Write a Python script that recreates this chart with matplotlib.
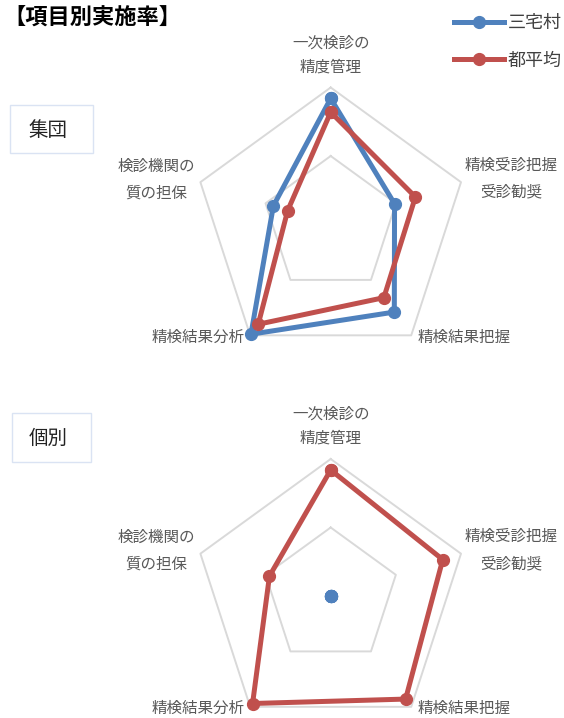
import numpy as np
import matplotlib
matplotlib.use("Agg")
import matplotlib.pyplot as plt
from matplotlib.patches import Rectangle

plt.rcParams['font.family'] = ['Noto Sans CJK JP', 'DejaVu Sans']

# ---- data ----
categories = ["一次検診の\n精度管理", "精検受診把握\n受診勧奨", "精検結果把握", "精検結果分析", "検診機関の\n質の担保"]
series_names = ["三宅村", "都平均"]
group_miyake = [92, 49, 79, 99, 44]
group_tokyo = [82, 65, 66, 90, 33]
indiv_miyake = [0, 0, 0, 0, 0]
indiv_tokyo = [92, 86, 93, 97, 47]
panel_titles = ["集団", "個別"]
grid_levels = [50, 100]

BLUE = "#4F81BD"
RED = "#C0504D"
GRID = "#D9D9D9"
LABEL = "#595959"

W, H = 564, 718
fig = plt.figure(figsize=(W / 100, H / 100), dpi=100)
fig.patch.set_facecolor("white")

R = 137.0
cx = 330.7
centers_y = [224.5, 596.0]

n = len(categories)
angles = np.linspace(0, 2 * np.pi, n, endpoint=False)
angles_c = np.concatenate([angles, angles[:1]])


def fx(x):
    return x / W


def fy(y):
    return 1 - y / H


axes = []
for cy, miyake, tokyo in zip(centers_y, [group_miyake, indiv_miyake], [group_tokyo, indiv_tokyo]):
    ax = fig.add_axes([fx(cx - R), (H - cy - R) / H, 2 * R / W, 2 * R / H], projection="polar")
    ax.set_theta_offset(np.pi / 2)
    ax.set_theta_direction(-1)
    ax.set_ylim(0, 100)
    ax.set_axis_off()
    for lv in grid_levels:
        ax.plot(angles_c, [lv] * (n + 1), color=GRID, lw=1.4, zorder=1, clip_on=False)
    m = list(miyake) + [miyake[0]]
    t = list(tokyo) + [tokyo[0]]
    ax.plot(angles_c, m, color=BLUE, lw=3.6, marker="o", markersize=8.5,
            solid_joinstyle="round", zorder=3, clip_on=False, label=series_names[0])
    ax.plot(angles_c, t, color=RED, lw=3.6, marker="o", markersize=8.5,
            solid_joinstyle="round", zorder=4, clip_on=False, label=series_names[1])
    axes.append(ax)

# category labels (pixel positions relative to the top chart; bottom offset)
label_pos = [
    [(331, 43), (331, 67)],
    [(511.5, 165), (511.5, 192)],
    [(464, 337)],
    [(198, 337)],
    [(156, 166), (156, 193)],
]
for k, cy in enumerate(centers_y):
    off = cy - centers_y[0]
    for cat, poss in zip(categories, label_pos):
        lines = cat.split("\n")
        for line, (x, y) in zip(lines, poss):
            fig.text(fx(x), fy(y + off), line, ha="center", va="center",
                     fontsize=11.2, color=LABEL)

# title
fig.text(fx(3), fy(18), "【項目別実施率】", ha="left", va="center",
         fontsize=16, fontweight="bold", color="black")

# panel boxes
boxes = [(10, 105, 92.7, 153.3), (11.7, 413.3, 90.7, 461.7)]
text_pos = [(48, 131), (48, 438)]
for (x0, y0, x1, y1), (tx, ty), ttl in zip(boxes, text_pos, panel_titles):
    fig.patches.append(Rectangle((fx(x0), fy(y1)), fx(x1) - fx(x0), fy(y0) - fy(y1),
                                 transform=fig.transFigure, fill=False,
                                 edgecolor="#DAE3F3", lw=1.0))
    fig.text(fx(tx), fy(ty), ttl, ha="center", va="center", fontsize=14, color="#222222")

# legend
handles, labels = axes[0].get_lines()[-2:], series_names
leg = fig.legend(handles, labels, loc="upper right",
                 bbox_to_anchor=(fx(562), fy(14)), frameon=False,
                 fontsize=13, handlelength=2.8, handletextpad=0.2,
                 labelspacing=1.08, borderpad=0, borderaxespad=0)
for t in leg.get_texts():
    t.set_color("#404040")

fig.savefig("out.png", dpi=100, facecolor="white")
